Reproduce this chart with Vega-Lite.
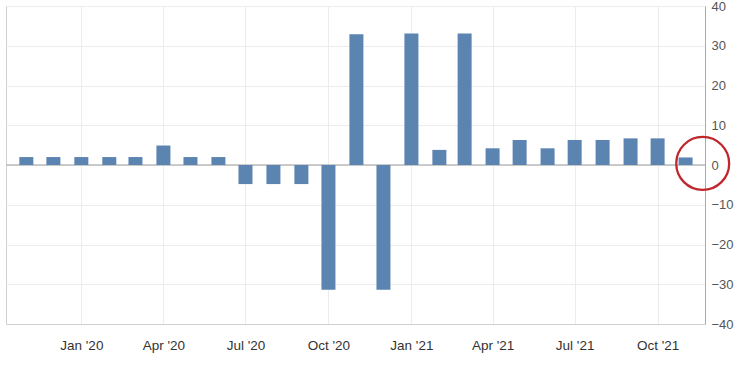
{
  "$schema": "https://vega.github.io/schema/vega-lite/v6.json",
  "width": 699,
  "height": 318,
  "autosize": {"type": "none"},
  "padding": {"left": 6, "top": 6, "right": 37, "bottom": 42},
  "background": "white",
  "config": {
    "view": {"stroke": "#d0d0d0", "strokeWidth": 1},
    "font": "Liberation Sans"
  },
  "encoding": {
    "y": {
      "field": "value",
      "type": "quantitative",
      "scale": {"domain": [-40, 40], "nice": false},
      "axis": {
        "title": null,
        "orient": "right",
        "values": [-40, -30, -20, -10, 0, 10, 20, 30, 40],
        "grid": true,
        "gridColor": "#ececec",
        "domain": true,
        "domainColor": "#aaaaaa",
        "ticks": false,
        "labelPadding": 6,
        "labelFontSize": 13,
        "labelColor": "#555555",
        "labelFont": "Liberation Sans"
      }
    }
  },
  "layer": [
    {
      "data": {"values": [{"value": 0}]},
      "mark": {"type": "rule", "color": "#bbbbbb", "strokeWidth": 1.5}
    },
    {
      "data": {
        "values": [
          {"date": "2019-11-01", "value": 2.0},
          {"date": "2019-12-01", "value": 2.0},
          {"date": "2020-01-01", "value": 2.0},
          {"date": "2020-02-01", "value": 2.0},
          {"date": "2020-03-01", "value": 2.0},
          {"date": "2020-04-01", "value": 4.9},
          {"date": "2020-05-01", "value": 2.0},
          {"date": "2020-06-01", "value": 2.0},
          {"date": "2020-07-01", "value": -4.8},
          {"date": "2020-08-01", "value": -4.8},
          {"date": "2020-09-01", "value": -4.8},
          {"date": "2020-10-01", "value": -31.4},
          {"date": "2020-11-01", "value": 32.9},
          {"date": "2020-12-01", "value": -31.4},
          {"date": "2021-01-01", "value": 33.1},
          {"date": "2021-02-01", "value": 3.8},
          {"date": "2021-03-01", "value": 33.1},
          {"date": "2021-04-01", "value": 4.2},
          {"date": "2021-05-01", "value": 6.3},
          {"date": "2021-06-01", "value": 4.2},
          {"date": "2021-07-01", "value": 6.3},
          {"date": "2021-08-01", "value": 6.3},
          {"date": "2021-09-01", "value": 6.7},
          {"date": "2021-10-01", "value": 6.7},
          {"date": "2021-11-01", "value": 1.9}
        ]
      },
      "mark": {"type": "bar", "size": 14, "color": "#5b84b1"},
      "encoding": {
        "x": {
          "field": "date",
          "type": "temporal",
          "scale": {
            "type": "utc",
            "domain": [
              {"utc": true, "year": 2019, "month": 10, "date": 15},
              {"utc": true, "year": 2021, "month": 11, "date": 17}
            ]
          },
          "axis": {
            "title": null,
            "format": "%b '%y",
            "values": [
              {"utc": true, "year": 2020, "month": 1, "date": 1},
              {"utc": true, "year": 2020, "month": 4, "date": 1},
              {"utc": true, "year": 2020, "month": 7, "date": 1},
              {"utc": true, "year": 2020, "month": 10, "date": 1},
              {"utc": true, "year": 2021, "month": 1, "date": 1},
              {"utc": true, "year": 2021, "month": 4, "date": 1},
              {"utc": true, "year": 2021, "month": 7, "date": 1},
              {"utc": true, "year": 2021, "month": 10, "date": 1}
            ],
            "grid": true,
            "gridColor": "#ececec",
            "gridWidth": 1,
            "domain": true,
            "domainColor": "#d0d0d0",
            "ticks": false,
            "labelPadding": 14,
            "labelFontSize": 13.5,
            "labelColor": "#333333",
            "labelFont": "Liberation Sans"
          }
        }
      }
    },
    {
      "data": {"values": [{"date": "2021-11-20", "value": 0.4}]},
      "mark": {"type": "point", "shape": "circle", "filled": false, "size": 2800, "color": "#c0272d", "strokeWidth": 2.3, "opacity": 1, "clip": false},
      "encoding": {
        "x": {"field": "date", "type": "temporal"}
      }
    }
  ]
}
